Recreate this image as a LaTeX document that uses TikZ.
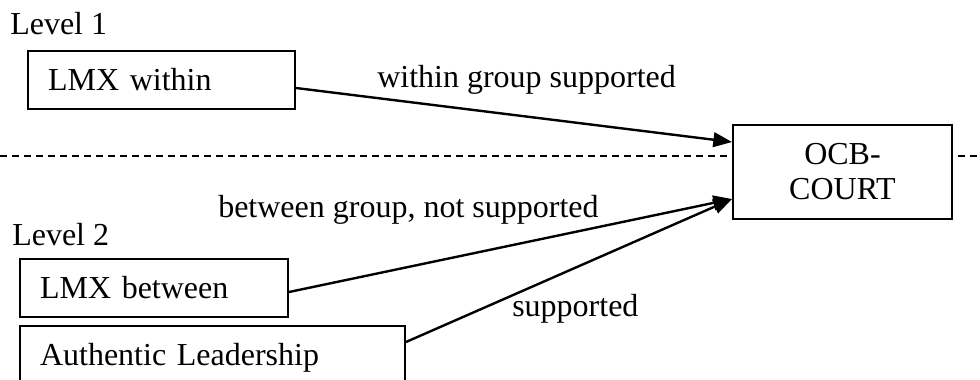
\documentclass[tikz,border=0pt]{standalone}
\usepackage{fontspec}
\setmainfont{Liberation Serif}
\usetikzlibrary{arrows.meta}
\tikzset{
    txt/.style={font=\fontsize{24}{26.25}\selectfont, inner sep=0pt},
    box/.style={txt, draw, line width=1.5pt, inner xsep=15pt, inner ysep=0pt, align=left, anchor=north west},
    link/.style={line width=1.8pt, -{Triangle[length=14pt,width=11pt]}}
}
\begin{document}
\begin{tikzpicture}[x=0.75pt,y=-0.75pt]
    \clip (0,0) rectangle (980,379);%画面大小
    \node[txt, anchor=base west] (lv1) at (10,34) {Level 1};
    \node[txt, anchor=base west] (lv2) at (12,245) {Level 2};
    \node[box, text width=170.25pt, minimum height=43.5pt] (lmxw) at (27,50) {LMX within};
    \node[box, text width=171pt, minimum height=43.5pt] (lmxb) at (19,258) {LMX between};
    \node[box, text width=258.75pt, minimum height=47.25pt] (auth) at (19,325) {Authentic Leadership};
    \node[txt, draw, line width=1.5pt, align=center, minimum width=164.25pt, minimum height=70.5pt] (ocb) at (842.5,172) {OCB-\\COURT};
    %虚线把两层分开
    \coordinate (dl) at (0,156);
    \coordinate (dr) at (980,156);
    \draw[line width=1.1pt, dash pattern=on 5pt off 4pt] (dl) -- (dl -| ocb.west);
    \draw[line width=1.1pt, dash pattern=on 5pt off 4pt] ([xshift=4pt]dl -| ocb.east) -- (dr);
    \draw[link] ([yshift=-6pt]lmxw.east) -- ([yshift=-13.5pt]ocb.north west);
    \draw[link] ([yshift=-3pt]lmxb.east) -- ([yshift=15.75pt]ocb.south west);
    \draw[link] ([yshift=-12.75pt]auth.north east) -- ([yshift=15.75pt]ocb.south west);
    \node[txt, anchor=base west] (lw) at (377,87) {within group supported};
    \node[txt, anchor=base west] (lb) at (218,217) {between group, not supported};
    \node[txt, anchor=base west] (ls) at (512,316) {supported};
\end{tikzpicture}
\end{document}
